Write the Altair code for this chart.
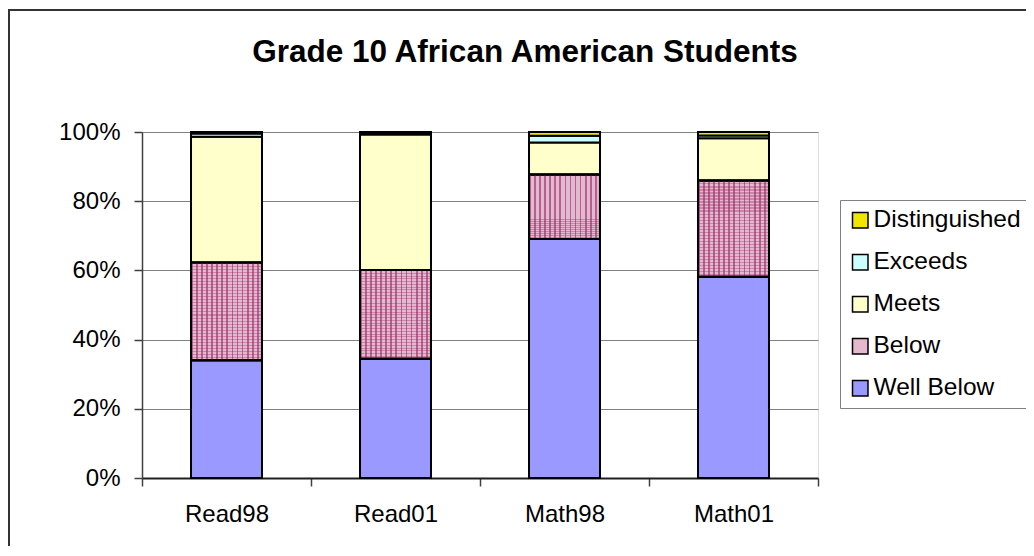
import altair as alt
import pandas as pd

tests = ["Read98", "Read01", "Math98", "Math01"]
levels = ["Well Below", "Below", "Meets", "Exceeds", "Distinguished"]
legend_order = ["Distinguished", "Exceeds", "Meets", "Below", "Well Below"]
legend_colors = ["#F2E600", "#CCFFFF", "#FFFFCC", "#E4B8CE", "#9999FF"]
title_text = ["Grade 10 African American Students"]

well_below = [34.0, 34.5, 69.1, 58.2]
below = [28.3, 25.6, 18.6, 27.8]
meets = [36.3, 39.2, 9.3, 12.2]
exceeds = [1.0, 0.5, 1.9, 0.8]
distinguished = [0.4, 0.2, 1.1, 1.0]

series = [well_below, below, meets, exceeds, distinguished]
rows = []
for rank, (lvl, vals) in enumerate(zip(levels, series)):
    for t, v in zip(tests, vals):
        rows.append({"test": t, "level": lvl, "rank": rank, "value": v})
df = pd.DataFrame(rows)

FONT = "Liberation Sans"


def stripes(n, color, horizontal):
    stops = []
    for i in range(n):
        a = i / n
        b = (i + 0.35) / n
        c = (i + 1) / n
        stops += [
            {"offset": a, "color": color},
            {"offset": b, "color": color},
            {"offset": b, "color": "rgba(255,255,255,0)"},
            {"offset": c, "color": "rgba(255,255,255,0)"},
        ]
    g = {"gradient": "linear", "stops": stops}
    if horizontal:
        g.update({"x1": 0, "y1": 0, "x2": 0, "y2": 1})
    else:
        g.update({"x1": 0, "y1": 0, "x2": 1, "y2": 0})
    return g


base = alt.Chart(df).transform_stack(
    stack="value",
    groupby=["test"],
    as_=["y0", "y1"],
    sort=[alt.SortField("rank", order="ascending")],
    offset="normalize",
)

x_enc = alt.X(
    "test:N",
    sort=tests,
    scale=alt.Scale(paddingInner=0, paddingOuter=0),
    axis=alt.Axis(
        title=None,
        labelAngle=0,
        tickBand="extent",
        labelFontSize=24,
        labelFont=FONT,
        labelColor="black",
        labelPadding=16,
        tickSize=8,
        tickColor="#404040",
        tickWidth=1.5,
        domainColor="#202020",
        domainWidth=2,
        grid=False,
    ),
)
y_enc = alt.Y(
    "y0:Q",
    scale=alt.Scale(domain=[0, 1], nice=False),
    axis=alt.Axis(
        title=None,
        format=".0%",
        values=[0, 0.2, 0.4, 0.6, 0.8, 1.0],
        labelFontSize=24,
        labelFont=FONT,
        labelColor="black",
        labelPadding=14,
        tickSize=8,
        tickColor="#404040",
        tickWidth=1.5,
        domainColor="#404040",
        domainWidth=1.5,
        grid=True,
        gridColor="#808080",
        gridWidth=1.2,
    ),
)

bars = base.mark_bar(
    width=alt.RelativeBandSize(0.42), stroke="black", strokeWidth=2
).encode(
    x=x_enc,
    y=y_enc,
    y2="y1:Q",
    color=alt.Color(
        "level:N",
        scale=alt.Scale(domain=legend_order, range=legend_colors),
        legend=alt.Legend(
            title=None,
            orient="none",
            legendX=698,
            legendY=68,
            labelFontSize=24.5,
            labelFont=FONT,
            labelColor="black",
            symbolType="square",
            symbolSize=240,
            symbolStrokeColor="black",
            symbolStrokeWidth=1.5,
            symbolOpacity=1,
            labelOffset=1,
            rowPadding=17,
            padding=8,
            strokeColor="#808080",
            fillColor="white",
        ),
    ),
)

below_h = base.transform_filter("datum.level == 'Below'").mark_bar(
    width=alt.RelativeBandSize(0.42),
    fill=stripes(32, "rgba(170,70,120,0.45)", True),
    stroke="black",
    strokeWidth=2,
).encode(x=x_enc, y=y_enc, y2="y1:Q")

below_v = base.transform_filter("datum.level == 'Below'").mark_bar(
    width=alt.RelativeBandSize(0.42),
    fill=stripes(14, "rgba(150,40,100,0.6)", False),
    stroke="black",
    strokeWidth=2,
).encode(x=x_enc, y=y_enc, y2="y1:Q")

border = alt.Chart(pd.DataFrame({"a": [0]})).mark_rect(
    filled=False, stroke="#333333", strokeWidth=2
).encode(
    x=alt.value(-133),
    y=alt.value(-122),
    x2=alt.value(1000),
    y2=alt.value(600),
)

title = alt.Chart(pd.DataFrame({"t": title_text})).mark_text(
    font=FONT,
    fontSize=31.5,
    fontWeight="bold",
    color="black",
    align="center",
    baseline="alphabetic",
).encode(
    text="t:N",
    x=alt.value(383),
    y=alt.value(-70),
)

chart = alt.layer(bars, below_h, below_v, border, title).properties(
    width=676,
    height=346,
    padding={"left": 134, "top": 124, "right": 208, "bottom": 68},
    autosize=alt.AutoSizeParams(type="none"),
).configure_view(stroke="#808080", strokeWidth=1.5).configure(background="white")

chart.save("out.html", embed_options={"renderer": "svg", "actions": False})
